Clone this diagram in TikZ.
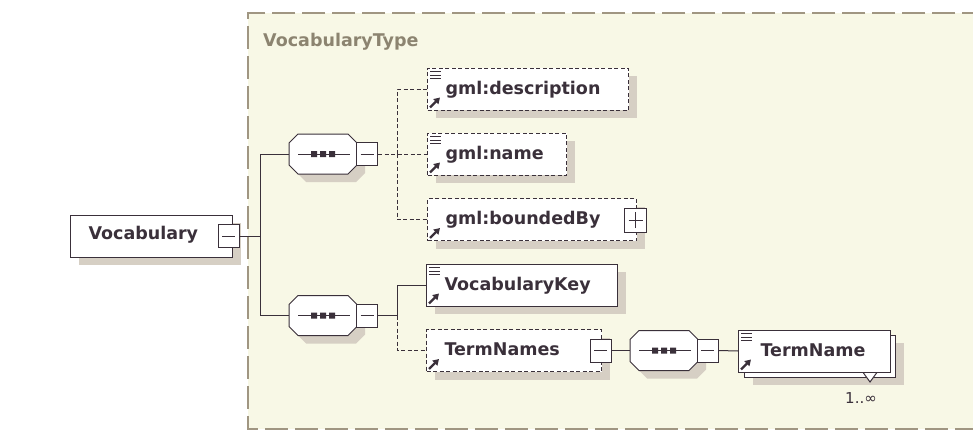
\documentclass[tikz,border=0pt]{standalone}
\usepackage{fontspec}
\setmainfont{DejaVu Sans}
\usetikzlibrary{arrows.meta,shadows}
\definecolor{ink}{RGB}{58,48,58}
\definecolor{bgc}{RGB}{248,248,230}
\definecolor{shadowc}{RGB}{214,207,196}
\definecolor{framec}{RGB}{160,150,130}
\definecolor{labelc}{RGB}{140,132,112}
\tikzset{
  elem/.style={draw=ink, fill=white, line width=1pt, anchor=west, inner xsep=18pt, inner ysep=0pt,
    text height=26pt, text depth=16pt, align=left, font=\fontsize{17.5}{20}\selectfont\bfseries, text=ink},
  shad/.style={drop shadow={shadow xshift=8pt, shadow yshift=-8pt, fill=shadowc, opacity=1}},
  optional/.style={dash pattern=on 4pt off 2.5pt},
  pm/.style={draw=ink, fill=white, line width=1pt, minimum width=21pt, minimum height=23pt, inner sep=0pt,
    path picture={\draw[ink, line width=0.9pt] ([xshift=-6.5pt]path picture bounding box.center) -- ([xshift=6.5pt]path picture bounding box.center);}},
  pbox/.style={draw=ink, fill=white, line width=1pt, minimum width=22pt, minimum height=24pt, inner sep=0pt,
    path picture={\draw[ink, line width=0.9pt] ([xshift=-7pt]path picture bounding box.center) -- ([xshift=7pt]path picture bounding box.center);
      \draw[ink, line width=0.9pt] ([yshift=-8pt]path picture bounding box.center) -- ([yshift=8pt]path picture bounding box.center);}},
  seqnode/.style={draw=none, minimum width=68pt, minimum height=40pt, inner sep=0pt},
  conn/.style={draw=ink, line width=1pt},
  frame/.style={draw=framec, line width=1.5pt, dash pattern=on 23pt off 7pt}
}
\newcommand{\seqoct}[3]{%
  \fill[shadowc, shift={(#2+8,#3+8)}] (-25,-20) -- (25,-20) -- (34,-11) -- (34,11) -- (25,20) -- (-25,20) -- (-34,11) -- (-34,-11) -- cycle;
  \node[seqnode] (#1) at (#2,#3) {};
  \draw[ink, fill=white, line width=1pt, shift={(#2,#3)}] (-25,-20) -- (25,-20) -- (34,-11) -- (34,11) -- (25,20) -- (-25,20) -- (-34,11) -- (-34,-11) -- cycle;
  \draw[ink, line width=1pt, shift={(#2,#3)}] (-25,0) -- (27,0);
  \fill[ink, shift={(#2,#3)}] (-12,-3) rectangle (-6,3) (-3,-3) rectangle (3,3) (6,-3) rectangle (12,3);
}
\newcommand{\docicon}[1]{%
  \foreach \d in {4,7.5,11} \draw[ink, line width=0.9pt] ([xshift=3pt,yshift=-\d pt]#1.north west) -- ([xshift=14pt,yshift=-\d pt]#1.north west);}
\newcommand{\refarrow}[1]{%
  \draw[ink, line width=2.4pt, -{Triangle[length=6pt,width=7pt]}] ([xshift=3pt,yshift=3pt]#1.south west) -- ([xshift=13pt,yshift=13pt]#1.south west);}
\begin{document}
\begin{tikzpicture}[x=1pt, y=-1pt]
\useasboundingbox (0,0) rectangle (973,444);
\fill[white] (0,0) rectangle (973,444);
% outer type frame
\fill[bgc] (248,13) rectangle (985,429);
\draw[frame] (985,13) -- (248,13) -- (248,429) -- (985,429);
\node[font=\fontsize{17.5}{20}\selectfont\bfseries, text=labelc, anchor=base west, inner sep=0pt] (vt) at (263,46) {VocabularyType};

% root element
\node[elem, shad, text width=126pt, text height=24pt, text depth=18pt] (voc) at (70,236) {Vocabulary};
\node[pm] (m0) at (228.5,236) {};

% sequences
\seqoct{s1}{323}{154}
\node[pm] (m1) at (367,154) {};
\seqoct{s2}{323}{315.5}
\node[pm] (m2) at (367,315.5) {};

% children of first sequence
\node[elem, shad, optional, text width=165pt] (desc) at (427,89) {gml:description};
\docicon{desc}\refarrow{desc}
\node[elem, shad, optional, text width=103pt] (name) at (427,154) {gml:name};
\docicon{name}\refarrow{name}
\node[elem, shad, optional, text width=173pt] (bbox) at (427,219.5) {gml:boundedBy};
\refarrow{bbox}
\node[pbox] (pb) at (635.5,220) {};

% children of second sequence
\node[elem, shad, text width=155pt] (vkey) at (426,285) {VocabularyKey};
\docicon{vkey}\refarrow{vkey}
\node[elem, shad, optional, text width=139pt] (tns) at (426,350.5) {TermNames};
\refarrow{tns}
\node[pm] (m3) at (600.5,350.5) {};

\seqoct{s3}{664}{350.5}
\node[pm] (m4) at (707.5,350.5) {};

% TermName (repeated)
\node[elem, shad, text width=115pt] (tnback) at (744,356) {};
\draw[ink, fill=white, line width=1pt] (862,371) -- (870,382) -- (878,371);
\node[elem, inner xsep=22pt, text width=108pt] (tn) at (738,351) {TermName};
\docicon{tn}\refarrow{tn}
\node[font=\fontsize{15}{18}\selectfont, text=ink, anchor=base, inner sep=0pt] (mult) at (861,403) {1..∞};

% connectors
\coordinate (j0) at (260,236);
\draw[conn] (m0.east) -- (j0);
\draw[conn] (j0) |- (s1.west);
\draw[conn] (j0) |- (s2.west);
\coordinate (j1) at (397,154);
\draw[conn, optional] (m1.east) -- (j1) -- (name.west);
\draw[conn, optional] (j1) |- (desc.west);
\draw[conn, optional] (j1) |- (bbox.west);
\coordinate (j2) at (397,315.5);
\draw[conn] (m2.east) -- (j2) |- (vkey.west);
\draw[conn, optional] (j2) |- (tns.west);
\draw[conn] (m3.east) -- (s3.west);
\draw[conn] (m4.east) -- (tn.west);
\end{tikzpicture}
\end{document}
